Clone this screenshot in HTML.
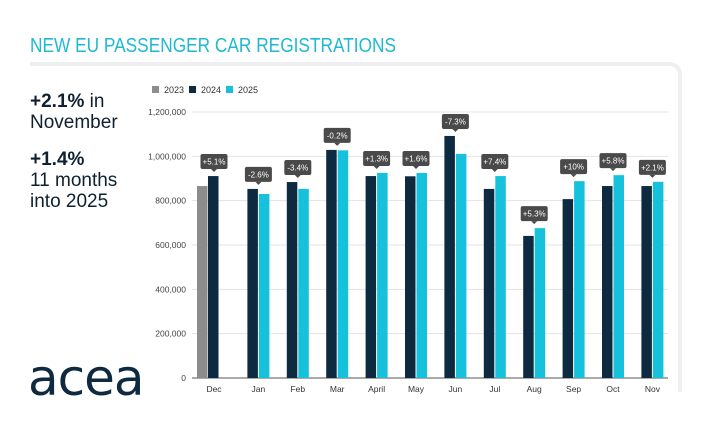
<!DOCTYPE html>
<html><head><meta charset="utf-8"><style>
body{margin:0;background:#fff;font-family:"Liberation Sans",sans-serif;}
#wrap{position:relative;width:707px;height:428px;overflow:hidden;background:#fff;}
</style></head><body>
<div id="wrap">
<svg id="chart" width="707" height="428" style="position:absolute;left:0;top:0">
  <path d="M30,64 L668,64 Q680,64 680,76 L680,392" fill="none" stroke="#efefef" stroke-width="4"/>
  <text x="30" y="52" font-size="20" fill="#1fb9d2" font-family="Liberation Sans Narrow, Liberation Sans, sans-serif" textLength="366" lengthAdjust="spacingAndGlyphs">NEW EU PASSENGER CAR REGISTRATIONS</text>
  <g fill="#0f2030" font-size="19">
    <text x="30" y="107"><tspan font-weight="bold">+2.1%</tspan> in</text>
    <text x="30" y="128">November</text>
    <text x="30" y="165" font-weight="bold">+1.4%</text>
    <text x="30" y="186">11 months</text>
    <text x="30" y="207">into 2025</text>
  </g>
  <g>
    <text x="28" y="395" font-size="50" fill="#0f2a40" letter-spacing="-1" font-family="DejaVu Sans, sans-serif">acea</text>
  </g>
  <g font-size="9" fill="#333">
    <rect x="152" y="86" width="7" height="7" fill="#8c8c8c"/>
    <text x="164" y="93">2023</text>
    <rect x="189" y="86" width="7" height="7" fill="#0d2a40"/>
    <text x="201" y="93">2024</text>
    <rect x="226" y="86" width="7" height="7" fill="#16c1dc"/>
    <text x="238" y="93">2025</text>
  </g>
  <g id="grid"></g><g id="bars"></g><g id="labels"></g>
</svg>
</div>
<script>
const categories=["Dec","Jan","Feb","Mar","April","May","Jun","Jul","Aug","Sep","Oct","Nov"];
const values2023=[866000,null,null,null,null,null,null,null,null,null,null,null];
const values2024=[911000,853000,884000,1029000,911000,910000,1092000,853000,641000,807000,866000,866000];
const values2025=[null,830000,853000,1027000,925000,925000,1011000,911000,676000,888000,915000,885000];
const changeLabels=["+5.1%","-2.6%","-3.4%","-0.2%","+1.3%","+1.6%","-7.3%","+7.4%","+5.3%","+10%","+5.8%","+2.1%"];
const yTicks=[0,200000,400000,600000,800000,1000000,1200000];
const yTickLabels=["0","200,000","400,000","600,000","800,000","1,000,000","1,200,000"];

const NS="http://www.w3.org/2000/svg";
const y0=378,yTop=112,yMax=1200000,xLeft=192,xRight=668;
const y=v=>y0-(v/yMax)*(y0-yTop);
const step=39.4,bw=10.5;
const xc=i=>219+i*step;
function mk(tag,attrs,parent){const e=document.createElementNS(NS,tag);for(const k in attrs)e.setAttribute(k,attrs[k]);parent.appendChild(e);return e;}
const grid=document.getElementById('grid'),bars=document.getElementById('bars'),labels=document.getElementById('labels');
yTicks.forEach((t,i)=>{
  const l=mk('line',{x1:xLeft,x2:xRight,y1:y(t),y2:y(t),stroke:i===0?'#555':'#e3e3e3','stroke-width':1},grid);
  
  
  const tx=mk('text',{x:186,y:y(t)+3,'font-size':8.5,'text-anchor':'end',fill:'#444'},grid);
  tx.textContent=yTickLabels[i];
  
  
});
categories.forEach((c,i)=>{
  const cx=xc(i);
  const series=[[values2023[i],'#8c8c8c',-22],[values2024[i],'#0d2a40',-bw-0.5],[values2025[i],'#16c1dc',0.5]];
  let top=y0;
  series.forEach(([v,col,off])=>{
    if(v==null)return;
    const r=mk('rect',{x:cx+off,y:y(v),width:bw,height:y0-y(v),fill:col},bars);
    
    
    top=Math.min(top,y(v));
  });
  const lx=i===0?cx-5:cx;
  const tx=mk('text',{x:lx,y:392,'font-size':8.5,'text-anchor':'middle',fill:'#333'},labels);
  tx.textContent=c;
  
  
  const g=mk('g',{},labels);
  
  
  const by=top-22;
  mk('rect',{x:lx-13.5,y:by,width:27,height:15,rx:2,fill:'#4a4a4a'},g);
  mk('path',{d:`M${lx-3},${by+15} L${lx},${by+18} L${lx+3},${by+15} Z`,fill:'#4a4a4a'},g);
  const t=mk('text',{x:lx,y:by+10.5,'font-size':8,'text-anchor':'middle',fill:'#fff'},g);
  t.textContent=changeLabels[i];
});
</script>
</body></html>
